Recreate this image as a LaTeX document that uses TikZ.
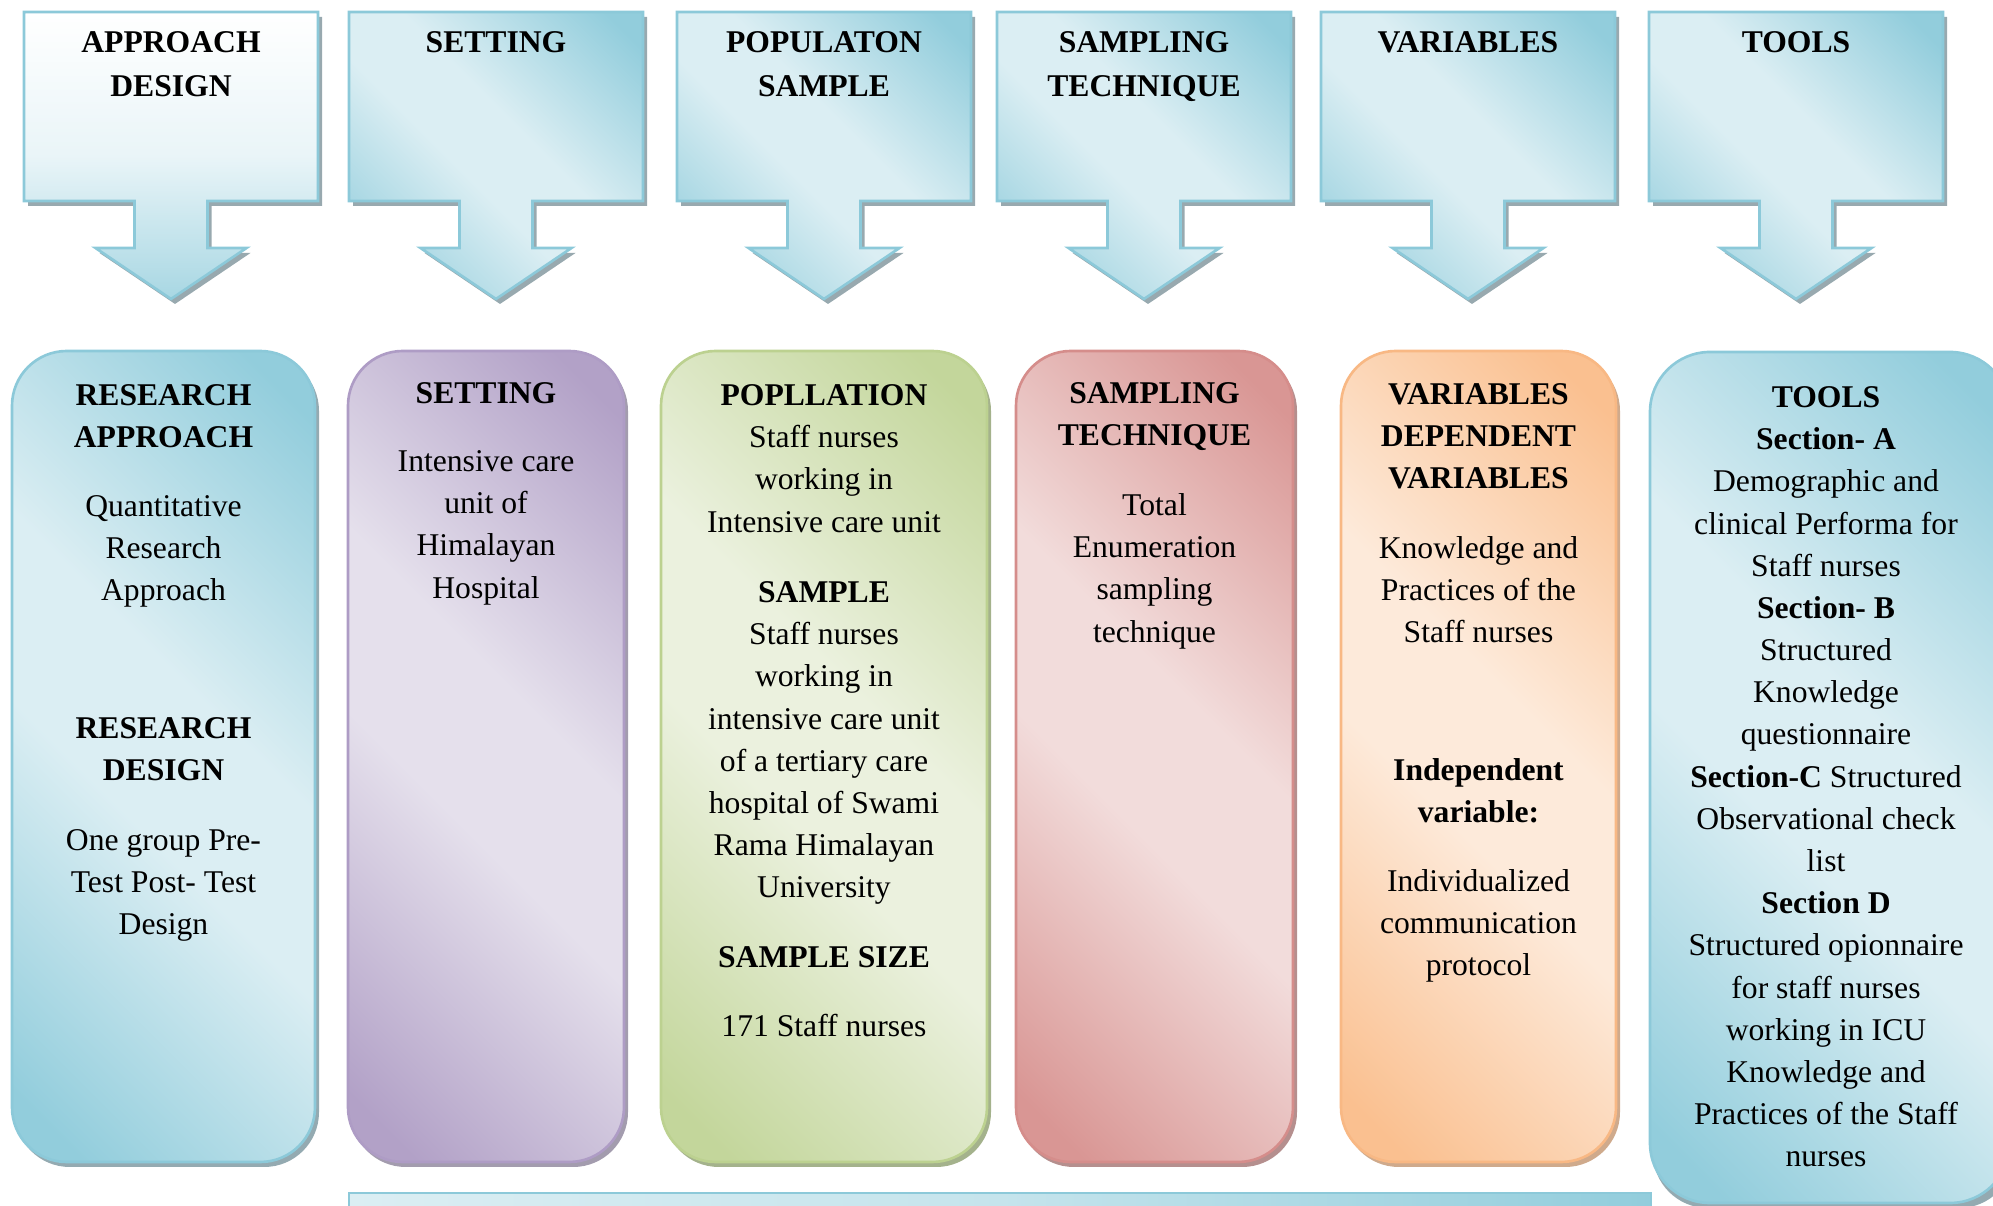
\documentclass[tikz,border=0pt]{standalone}
\usepackage{fontspec}
\setmainfont{Liberation Serif}
% Office-style tints
\definecolor{blueD}{HTML}{92CDDC}
\definecolor{blueL}{HTML}{DBEEF3}
\definecolor{blueLn}{HTML}{8CC9D9}
\definecolor{blueSh}{HTML}{94AAB1}
\definecolor{purD}{HTML}{B2A1C7}
\definecolor{purL}{HTML}{E5E0EC}
\definecolor{purLn}{HTML}{AE9CC5}
\definecolor{purSh}{HTML}{A39CAE}
\definecolor{grnD}{HTML}{C3D69B}
\definecolor{grnL}{HTML}{EBF1DE}
\definecolor{grnLn}{HTML}{BCD190}
\definecolor{grnSh}{HTML}{A4B28C}
\definecolor{redD}{HTML}{D99694}
\definecolor{redL}{HTML}{F2DCDB}
\definecolor{redLn}{HTML}{D58D8B}
\definecolor{redSh}{HTML}{B58F8E}
\definecolor{orgD}{HTML}{FAC090}
\definecolor{orgL}{HTML}{FDEADA}
\definecolor{orgLn}{HTML}{F8B884}
\definecolor{orgSh}{HTML}{CFAA8C}
\definecolor{arrSh}{HTML}{98A9AF}

% dark - light - dark bands, used rotated across each panel
\newcommand{\bandshading}[1]{%
  \pgfdeclareverticalshading{#1band}{100bp}{color(0bp)=(#1D); color(19bp)=(#1D);
    color(44bp)=(#1L); color(56bp)=(#1L); color(81bp)=(#1D); color(100bp)=(#1D)}}
\bandshading{blue}
\bandshading{pur}
\bandshading{grn}
\bandshading{red}
\bandshading{org}

% A heading box with a downward block arrow; #1 = left edge, #2 = fill style
\newcommand{\headbox}[2]{%
  \pgfmathsetmacro{\hcx}{#1+147}%
  \fill[arrSh, shift={(4,5)}]
    (#1,12) -- (#1+294,12) -- (#1+294,201) -- (\hcx+36.5,201) -- (\hcx+36.5,248)
    -- (\hcx+75.5,248) -- (\hcx,299) -- (\hcx-75.5,248) -- (\hcx-36.5,248)
    -- (\hcx-36.5,201) -- (#1,201) -- cycle;
  \draw[line width=1pt, draw=blueLn, #2]
    (#1,12) -- (#1+294,12) -- (#1+294,201) -- (\hcx+36.5,201) -- (\hcx+36.5,248)
    -- (\hcx+75.5,248) -- (\hcx,299) -- (\hcx-75.5,248) -- (\hcx-36.5,248)
    -- (\hcx-36.5,201) -- (#1,201) -- cycle;
}

\begin{document}
\begin{tikzpicture}[x=0.1333mm, y=-0.1333mm,
  txt/.style={inner sep=0pt, align=center, anchor=north,
    font=\fontsize{12}{16}\selectfont},
  hd/.style={txt, font=\fontsize{12}{16}\selectfont\bfseries},
  tophd/.style={inner sep=0pt, align=center, anchor=north,
    font=\fontsize{12}{16.6}\selectfont\bfseries},
  diag/.style={shade, shading=#1band, shading angle=-45},
  panel/.style={line width=1pt, draw=#1Ln, diag=#1, rounded corners=7.3mm},
  panelsh/.style={fill=#1Sh, rounded corners=7.3mm},
]
\useasboundingbox (0,0) rectangle (1993,1206);
\clip (0,0) rectangle (1993,1206);

% ---- heading arrows ----
\headbox{24}{top color=white, bottom color=blueD!70!blueL, middle color=blueL!60!white}
\headbox{349}{diag=blue}
\headbox{677}{diag=blue}
\headbox{997}{diag=blue}
\headbox{1321}{diag=blue}
\headbox{1649}{diag=blue}

\node[tophd] (h1) at (171,21.3) {\strut APPROACH\\DESIGN};
\node[tophd] (h2) at (496,21.3) {\strut SETTING};
\node[tophd] (h3) at (824,21.3) {\strut POPULATON\\SAMPLE};
\node[tophd] (h4) at (1144,21.3) {\strut SAMPLING\\TECHNIQUE};
\node[tophd] (h5) at (1468,21.3) {\strut VARIABLES};
\node[tophd] (h6) at (1796,21.3) {\strut TOOLS};

% ---- bottom strip ----
\draw[line width=1pt, draw=blueLn, left color=blueL, right color=blueD, middle color=blueL!70!blueD]
  (349,1193) rectangle (1651,1270);

% ---- content panels ----
\fill[panelsh=blue] (15,356) rectangle (319,1167);
\draw[panel=blue] (12,351) rectangle (315,1162);
\fill[panelsh=pur] (351,356) rectangle (628,1167);
\draw[panel=pur] (348,351) rectangle (624,1162);
\fill[panelsh=grn] (664,356) rectangle (991,1167);
\draw[panel=grn] (661,351) rectangle (987,1162);
\fill[panelsh=red] (1019,356) rectangle (1297,1167);
\draw[panel=red] (1016,351) rectangle (1293,1162);
\fill[panelsh=org] (1344,356) rectangle (1620,1167);
\draw[panel=org] (1341,351) rectangle (1616,1162);
\fill[panelsh=blue] (1653,357) rectangle (2014,1208);
\draw[panel=blue, rounded corners=8mm] (1650,352) rectangle (2010,1203);

% research approach / design
\node[hd]  (a1) at (163.5,375.4) {\strut RESEARCH\\APPROACH};
\node[txt] (a2) at (163.5,486.4) {\strut Quantitative\\Research\\Approach};
\node[hd]  (a3) at (163.5,708.4) {\strut RESEARCH\\DESIGN};
\node[txt] (a4) at (163.5,820.4) {\strut One group Pre-\\Test Post- Test\\Design};

% setting
\node[hd]  (s1) at (486,373.4) {\strut SETTING};
\node[txt] (s2) at (486,441.4) {\strut Intensive care\\unit of\\Himalayan\\Hospital};

% population and sample
\node[txt] (p1) at (824,375.4) {\strut\textbf{POPLLATION}\\Staff nurses\\working in\\Intensive care unit};
\node[txt] (p2) at (824,572.4) {\strut\textbf{SAMPLE}\\Staff nurses\\working in\\intensive care unit\\of a tertiary care\\hospital of Swami\\Rama Himalayan\\University};
\node[hd]  (p3) at (824,937.4) {\strut SAMPLE SIZE};
\node[txt] (p4) at (824,1006.4) {\strut 171 Staff nurses};

% sampling technique
\node[hd]  (t1) at (1154.5,373.4) {\strut SAMPLING\\TECHNIQUE};
\node[txt] (t2) at (1154.5,485.4) {\strut Total\\Enumeration\\sampling\\technique};

% variables
\node[hd]  (v1) at (1478.5,374.4) {\strut VARIABLES\\DEPENDENT\\VARIABLES};
\node[txt] (v2) at (1478.5,528.4) {\strut Knowledge and\\Practices of the\\Staff nurses};
\node[hd]  (v3) at (1478.5,750.4) {\strut Independent\\variable:};
\node[txt] (v4) at (1478.5,861.4) {\strut Individualized\\communication\\protocol};

% tools
\node[txt] (o1) at (1826,377.4) {\strut\textbf{TOOLS}\\\textbf{Section- A}\\Demographic and\\clinical Performa for\\Staff nurses\\\textbf{Section- B}\\Structured\\Knowledge\\questionnaire\\\textbf{Section-C} Structured\\Observational check\\list\\\textbf{Section D}\\Structured opionnaire\\for staff nurses\\working in ICU\\Knowledge and\\Practices of the Staff\\nurses};
\end{tikzpicture}
\end{document}
